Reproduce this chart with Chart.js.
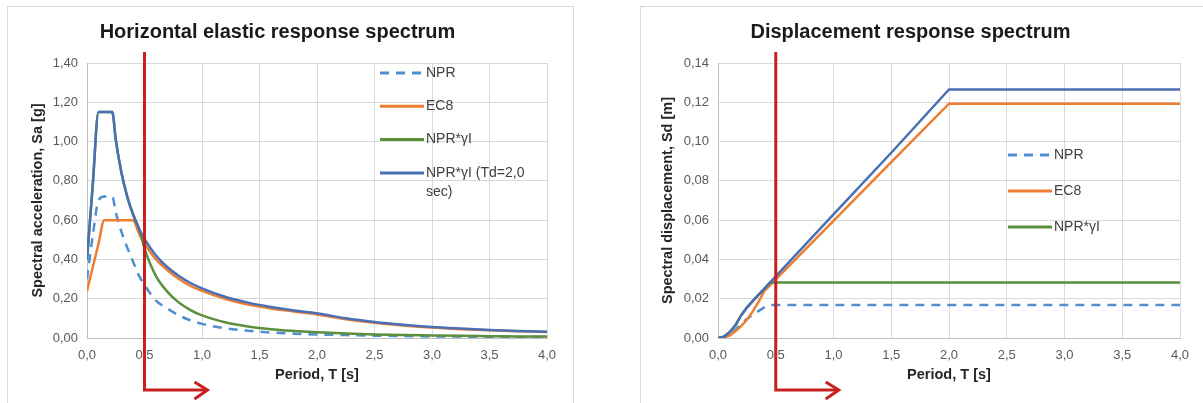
<!DOCTYPE html>
<html>
<head>
<meta charset="utf-8">
<script src="https://cdn.jsdelivr.net/npm/chart.js@4.4.1/dist/chart.umd.min.js"></script>
<style>
    body { margin: 0; background: #fff; overflow: hidden; }
    .panel { position: absolute; top: 6px; height: 420px; border: 1px solid #d9d9d9; }
    #left-panel { left: 7px; width: 565px; }
    #right-panel { left: 640px; width: 600px; }
    canvas { display: block; }
</style>
</head>
<body>
<div class="panel" id="left-panel"><canvas id="saChart" width="565" height="393"></canvas></div>
<div class="panel" id="right-panel"><canvas id="sdChart" width="565" height="393"></canvas></div>
<script>
// Period where the red marker sits
const markerPeriod = 0.5;

// Horizontal elastic response spectrum, Sa [g]
const saPeriods = [0, 0.05, 0.1, 0.15, 0.22, 0.25, 0.3, 0.35, 0.4, 0.45, 0.5, 0.6, 0.7, 0.8, 0.9, 1.0, 1.2, 1.4, 1.6, 1.8, 2.0, 2.25, 2.5, 2.75, 3.0, 3.25, 3.5, 3.75, 4.0];
const saNPR = [0.30, 0.52, 0.70, 0.72, 0.72, 0.64, 0.54, 0.46, 0.39, 0.32, 0.27, 0.19, 0.15, 0.115, 0.09, 0.072, 0.05, 0.037, 0.028, 0.022, 0.018, 0.015, 0.012, 0.010, 0.008, 0.007, 0.006, 0.005, 0.0045];
const saEC8 = [0.24, 0.36, 0.48, 0.60, 0.60, 0.60, 0.60, 0.60, 0.60, 0.535, 0.48, 0.40, 0.345, 0.30, 0.265, 0.24, 0.20, 0.17, 0.15, 0.135, 0.12, 0.095, 0.077, 0.063, 0.053, 0.045, 0.039, 0.034, 0.030];
const saNPRgi = [0.40, 0.78, 1.15, 1.15, 1.15, 1.01, 0.84, 0.72, 0.63, 0.56, 0.455, 0.315, 0.235, 0.18, 0.142, 0.115, 0.08, 0.059, 0.045, 0.036, 0.029, 0.023, 0.018, 0.015, 0.013, 0.011, 0.0095, 0.008, 0.0072];
const saNPRgiTd = [0.40, 0.78, 1.15, 1.15, 1.15, 1.01, 0.84, 0.72, 0.63, 0.56, 0.505, 0.42, 0.36, 0.316, 0.28, 0.253, 0.21, 0.18, 0.158, 0.14, 0.126, 0.10, 0.081, 0.067, 0.056, 0.048, 0.041, 0.036, 0.032];

// Displacement response spectrum, Sd [m]
const sdPeriods = [0, 0.05, 0.1, 0.15, 0.2, 0.25, 0.3, 0.35, 0.4, 0.45, 0.5, 1.0, 1.5, 2.0, 2.5, 3.0, 3.5, 4.0];
const sdNPR = [0, 0.0004, 0.0018, 0.004, 0.0072, 0.0097, 0.0118, 0.0137, 0.0156, 0.0168, 0.0168, 0.0168, 0.0168, 0.0168, 0.0168, 0.0168, 0.0168, 0.0168];
const sdEC8 = [0, 0.0002, 0.0012, 0.0034, 0.006, 0.0093, 0.0134, 0.0183, 0.0239, 0.0268, 0.0298, 0.0596, 0.0895, 0.1193, 0.1193, 0.1193, 0.1193, 0.1193];
const sdNPRgi = [0, 0.0006, 0.0029, 0.0064, 0.0115, 0.0155, 0.0188, 0.0219, 0.025, 0.0282, 0.0282, 0.0282, 0.0282, 0.0282, 0.0282, 0.0282, 0.0282, 0.0282];
const sdNPRgiTd = [0, 0.0006, 0.0029, 0.0064, 0.0115, 0.0155, 0.0188, 0.0219, 0.025, 0.0282, 0.0314, 0.0629, 0.0943, 0.1265, 0.1265, 0.1265, 0.1265, 0.1265];

const seriesLabels = ["NPR", "EC8", "NPR*γI", "NPR*γI (Td=2,0 sec)"];
const saLegendLines = [["NPR"], ["EC8"], ["NPR*γI"], ["NPR*γI (Td=2,0", "sec)"]];
const sdLegendLines = [["NPR"], ["EC8"], ["NPR*γI"]];

const FONT = "'Liberation Sans', Arial, sans-serif";
Chart.defaults.font.family = FONT;

const seriesStyles = [
    { borderColor: "#4f8fd0", borderDash: [9, 7], order: 3 },
    { borderColor: "#ed7d31", borderDash: [], order: 2 },
    { borderColor: "#5a8f3c", borderDash: [], order: 1 },
    { borderColor: "#4a6fb3", borderDash: [], order: 0 },
];

function points(periods, values) {
    return periods.map((t, i) => ({ x: t, y: values[i] }));
}

// red vertical line at T = 0.5 with arrow pointing right
const markerPlugin = {
    id: "marker",
    afterDatasetsDraw(chart) {
        const ctx = chart.ctx;
        const x = chart.scales.x.getPixelForValue(markerPeriod);
        const yArrow = 383;
        ctx.save();
        ctx.strokeStyle = "#c8201e";
        ctx.lineWidth = 3;
        ctx.beginPath();
        ctx.moveTo(x, chart.chartArea.top - 11);
        ctx.lineTo(x, yArrow);
        ctx.lineTo(x + 61, yArrow);
        ctx.stroke();
        ctx.beginPath();
        ctx.moveTo(x + 50, yArrow - 8);
        ctx.lineTo(x + 63, yArrow);
        ctx.lineTo(x + 50, yArrow + 9);
        ctx.stroke();
        ctx.restore();
    },
};

function legendPlugin(legendLines, left, top, step) {
    return {
        id: "sideLegend",
        afterDraw(chart) {
            const ctx = chart.ctx;
            const area = chart.chartArea;
            ctx.save();
            ctx.font = "14px " + FONT;
            ctx.fillStyle = "#404040";
            ctx.textBaseline = "middle";
            legendLines.forEach((lines, i) => {
                const ds = chart.data.datasets[i];
                const x = area.left + left;
                const y = area.top + top + i * step;
                ctx.strokeStyle = ds.borderColor;
                ctx.lineWidth = 3;
                ctx.setLineDash(ds.borderDash);
                ctx.beginPath();
                ctx.moveTo(x, y);
                ctx.lineTo(x + 44, y);
                ctx.stroke();
                ctx.setLineDash([]);
                lines.forEach((txt, j) => ctx.fillText(txt, x + 46, y + j * 19));
            });
            ctx.restore();
        },
    };
}

function makeChart(id, cfg) {
    const datasets = cfg.series.map((values, i) => ({
        label: seriesLabels[i],
        data: points(cfg.periods, values),
        borderColor: seriesStyles[i].borderColor,
        borderDash: seriesStyles[i].borderDash,
        order: seriesStyles[i].order,
        borderWidth: 2.5,
        pointRadius: 0,
        fill: false,
        tension: 0,
        cubicInterpolationMode: cfg.smooth ? "monotone" : "default",
    }));

    new Chart(document.getElementById(id).getContext("2d"), {
        type: "line",
        data: { datasets },
        options: {
            responsive: false,
            animation: false,
            devicePixelRatio: 1,
            layout: { padding: { left: 0, right: 26, top: 0, bottom: 0 } },
            scales: {
                x: {
                    type: "linear",
                    min: 0,
                    max: 4,
                    afterFit: (scale) => { scale.height = 62; },
                    grid: { color: "#d9d9d9", drawTicks: false },
                    border: { color: "#bfbfbf" },
                    ticks: {
                        stepSize: 0.5,
                        padding: 10,
                        color: "#595959",
                        font: { size: 13 },
                        maxRotation: 0,
                        callback: (v) => v.toFixed(1).replace(".", ","),
                    },
                    title: {
                        display: true,
                        text: "Period, T [s]",
                        color: "#262626",
                        font: { size: 14.5, weight: "bold" },
                        padding: { top: 4, bottom: 16 },
                    },
                },
                y: {
                    min: 0,
                    max: cfg.yMax,
                    afterFit: (scale) => { scale.width = cfg.yWidth; },
                    grid: { color: "#d9d9d9", drawTicks: false },
                    border: { color: "#bfbfbf" },
                    ticks: {
                        stepSize: cfg.yStep,
                        padding: 9,
                        color: "#595959",
                        font: { size: 13 },
                        callback: (v) => v.toFixed(2).replace(".", ","),
                    },
                    title: {
                        display: true,
                        text: cfg.yTitle,
                        color: "#262626",
                        font: { size: 14.5, weight: "bold" },
                        padding: { top: cfg.yTitlePad, bottom: 0 },
                    },
                },
            },
            plugins: {
                legend: { display: false },
                tooltip: { enabled: false },
                title: {
                    display: true,
                    text: cfg.title,
                    color: "#1a1a1a",
                    font: { size: 20, weight: "bold" },
                    padding: { top: 13, bottom: 19 },
                },
            },
        },
        plugins: [markerPlugin, legendPlugin(cfg.legendLines, cfg.legendLeft, cfg.legendTop, cfg.legendStep)],
    });
}

makeChart("saChart", {
    title: "Horizontal elastic response spectrum",
    yTitle: "Spectral acceleration, Sa [g]",
    periods: saPeriods,
    series: [saNPR, saEC8, saNPRgi, saNPRgiTd],
    smooth: true,
    yMax: 1.4,
    yStep: 0.2,
    yWidth: 79,
    yTitlePad: 21,
    legendLines: saLegendLines,
    legendLeft: 293,
    legendTop: 10,
    legendStep: 33.3,
});

makeChart("sdChart", {
    title: "Displacement response spectrum",
    yTitle: "Spectral displacement, Sd [m]",
    periods: sdPeriods,
    series: [sdNPR, sdEC8, sdNPRgi, sdNPRgiTd],
    smooth: false,
    yMax: 0.14,
    yStep: 0.02,
    yWidth: 77,
    yTitlePad: 18,
    legendLines: sdLegendLines,
    legendLeft: 290,
    legendTop: 92,
    legendStep: 36,
});
</script>
</body>
</html>
